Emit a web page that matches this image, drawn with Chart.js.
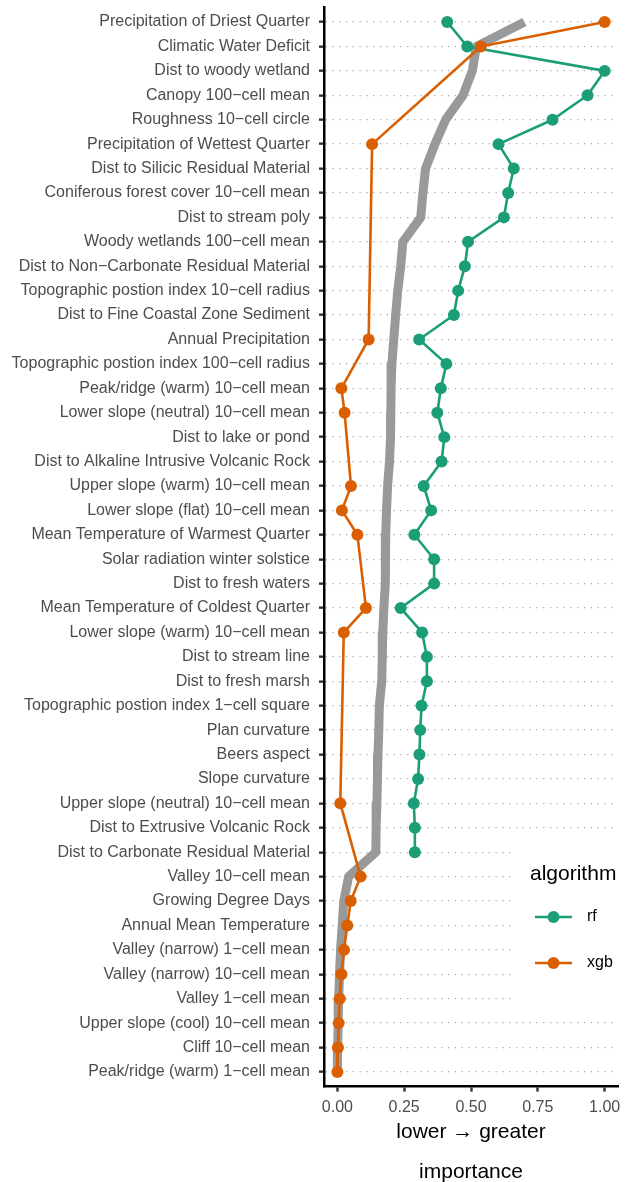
<!DOCTYPE html>
<html><head><meta charset="utf-8">
<script src="https://cdn.jsdelivr.net/npm/chart.js@4"></script>
<style>html,body{margin:0;padding:0;background:#fff}#wrap{width:633px;height:1182px;position:relative}</style>
</head><body><div id="wrap"><canvas id="c"></canvas></div>
<script>
const categories = [
  "Precipitation of Driest Quarter",
  "Climatic Water Deficit",
  "Dist to woody wetland",
  "Canopy 100\u2212cell mean",
  "Roughness 10\u2212cell circle",
  "Precipitation of Wettest Quarter",
  "Dist to Silicic Residual Material",
  "Coniferous forest cover 10\u2212cell mean",
  "Dist to stream poly",
  "Woody wetlands 100\u2212cell mean",
  "Dist to Non\u2212Carbonate Residual Material",
  "Topographic postion index 10\u2212cell radius",
  "Dist to Fine Coastal Zone Sediment",
  "Annual Precipitation",
  "Topographic postion index 100\u2212cell radius",
  "Peak/ridge (warm) 10\u2212cell mean",
  "Lower slope (neutral) 10\u2212cell mean",
  "Dist to lake or pond",
  "Dist to Alkaline Intrusive Volcanic Rock",
  "Upper slope (warm) 10\u2212cell mean",
  "Lower slope (flat) 10\u2212cell mean",
  "Mean Temperature of Warmest Quarter",
  "Solar radiation winter solstice",
  "Dist to fresh waters",
  "Mean Temperature of Coldest Quarter",
  "Lower slope (warm) 10\u2212cell mean",
  "Dist to stream line",
  "Dist to fresh marsh",
  "Topographic postion index 1\u2212cell square",
  "Plan curvature",
  "Beers aspect",
  "Slope curvature",
  "Upper slope (neutral) 10\u2212cell mean",
  "Dist to Extrusive Volcanic Rock",
  "Dist to Carbonate Residual Material",
  "Valley 10\u2212cell mean",
  "Growing Degree Days",
  "Annual Mean Temperature",
  "Valley (narrow) 1\u2212cell mean",
  "Valley (narrow) 10\u2212cell mean",
  "Valley 1\u2212cell mean",
  "Upper slope (cool) 10\u2212cell mean",
  "Cliff 10\u2212cell mean",
  "Peak/ridge (warm) 1\u2212cell mean"
];

const rf = [
  0.411, 0.486, 1.000, 0.936, 0.805, 0.603, 0.660, 0.639, 0.623, 0.489,
  0.477, 0.452, 0.436, 0.306, 0.408, 0.387, 0.374, 0.400, 0.390, 0.323,
  0.351, 0.288, 0.362, 0.362, 0.237, 0.317, 0.335, 0.335, 0.315, 0.310,
  0.307, 0.302, 0.286, 0.290, 0.290, null, null, null, null, null,
  null, null, null, null
];

const xgb = [
  1.000, 0.537, null, null, null, 0.130, null, null, null, null,
  null, null, null, 0.117, null, 0.015, 0.027, null, null, 0.051,
  0.017, 0.075, null, null, 0.107, 0.024, null, null, null, null,
  null, null, 0.011, null, null, 0.087, 0.050, 0.037, 0.025, 0.015,
  0.009, 0.005, 0.002, 0.000
];

const meanImportance = [
  0.700, 0.520, 0.505, 0.470, 0.405, 0.365, 0.330, 0.320, 0.312, 0.245,
  0.237, 0.226, 0.218, 0.211, 0.204, 0.201, 0.200, 0.199, 0.195, 0.188,
  0.184, 0.181, 0.180, 0.179, 0.174, 0.170, 0.168, 0.166, 0.157, 0.155,
  0.152, 0.150, 0.148, 0.145, 0.144, 0.042, 0.024, 0.018, 0.012, 0.008,
  0.005, 0.003, 0.001, 0.000
];

const xTicks = [0, 0.25, 0.5, 0.75, 1];
const seriesNames = ["rf", "xgb"];
const seriesColors = ["#1B9E77", "#D95F02"];
const legendTitle = "algorithm";
const axisTitle = ["lower \u2192 greater", "", "importance"];

const FAMILY = '"Liberation Sans", Arial, Helvetica, sans-serif';
const PR = 6;

function toPts(arr) {
  return arr.map((v, i) => (v === null ? null : {x: v, y: i})).filter(p => p);
}

const legendPlugin = {
  id: 'ggLegend',
  afterDraw(chart) {
    const ctx = chart.ctx;
    ctx.save();
    ctx.fillStyle = '#ffffff';
    ctx.fillRect(515, 840, 118, 168);
    ctx.fillStyle = '#000000';
    ctx.textBaseline = 'middle';
    ctx.textAlign = 'left';
    ctx.font = '21px ' + FAMILY;
    ctx.fillText(legendTitle, 530, 874);
    const ys = [917, 963];
    seriesNames.forEach((name, k) => {
      const y = ys[k];
      ctx.strokeStyle = seriesColors[k];
      ctx.lineWidth = 2.6;
      ctx.beginPath();
      ctx.moveTo(535, y);
      ctx.lineTo(572, y);
      ctx.stroke();
      ctx.fillStyle = seriesColors[k];
      ctx.beginPath();
      ctx.arc(553.5, y, PR, 0, Math.PI * 2);
      ctx.fill();
      ctx.fillStyle = '#000000';
      ctx.font = '16px ' + FAMILY;
      ctx.fillText(name, 587, y);
    });
    ctx.restore();
  }
};

const lineDs = (label, data, color, width, order) => ({
  label, data, showLine: true, borderColor: color, backgroundColor: color,
  borderWidth: width, pointRadius: 0, pointHoverRadius: 0, order,
  borderCapStyle: 'butt', borderJoinStyle: 'round', tension: 0
});
const pointDs = (label, data, color, order) => ({
  label, data, showLine: false, backgroundColor: color, borderColor: color,
  borderWidth: 0, pointRadius: PR, pointHoverRadius: PR, order
});

new Chart(document.getElementById('c'), {
  type: 'scatter',
  data: {
    datasets: [
      lineDs('mean', toPts(meanImportance), '#999999', 9, 5),
      lineDs('rf line', toPts(rf), seriesColors[0], 2.6, 4),
      lineDs('xgb line', toPts(xgb), seriesColors[1], 2.6, 3),
      pointDs('rf', toPts(rf), seriesColors[0], 2),
      pointDs('xgb', toPts(xgb), seriesColors[1], 1)
    ]
  },
  options: {
    responsive: true,
    maintainAspectRatio: false,
    animation: false,
    events: [],
    layout: {padding: {top: 7.4, right: 15, bottom: 0, left: 0}},
    plugins: {legend: {display: false}, tooltip: {enabled: false}},
    scales: {
      x: {
        type: 'linear', position: 'bottom', min: -0.05, max: 1.05,
        afterBuildTicks: s => { s.ticks = xTicks.map(v => ({value: v})); },
        afterFit: s => { s.height = 95.4; s.paddingLeft = 0; s.paddingRight = 0; },
        ticks: {callback: v => Number(v).toFixed(2), color: '#4D4D4D', font: {size: 16, family: FAMILY}, padding: 6, maxRotation: 0, autoSkip: false},
        grid: {drawOnChartArea: false, drawTicks: true, tickLength: 5, tickColor: '#333333', tickWidth: 2.4},
        border: {display: true, color: '#000000', width: 2.5},
        title: {display: true, text: axisTitle, color: '#000000', font: {size: 21, family: FAMILY, lineHeight: 20 / 21}, padding: {top: 0, bottom: 0}}
      },
      y: {
        type: 'linear', reverse: true, min: -0.6, max: categories.length - 0.4,
        afterBuildTicks: s => { s.ticks = categories.map((c, i) => ({value: i})); },
        afterFit: s => { s.width = 324; s.paddingTop = 0; s.paddingBottom = 0; },
        ticks: {callback: v => categories[v], autoSkip: false, color: '#4D4D4D', font: {size: 16, family: FAMILY}, padding: 9},
        grid: {color: '#ABABAB', lineWidth: 1.3, drawTicks: true, tickLength: 5, tickColor: '#333333', tickWidth: 2.4, tickBorderDash: []},
        border: {display: true, color: '#000000', width: 2.5, dash: [1.3, 5.5]}
      }
    }
  },
  plugins: [legendPlugin]
});
</script>
</body></html>
